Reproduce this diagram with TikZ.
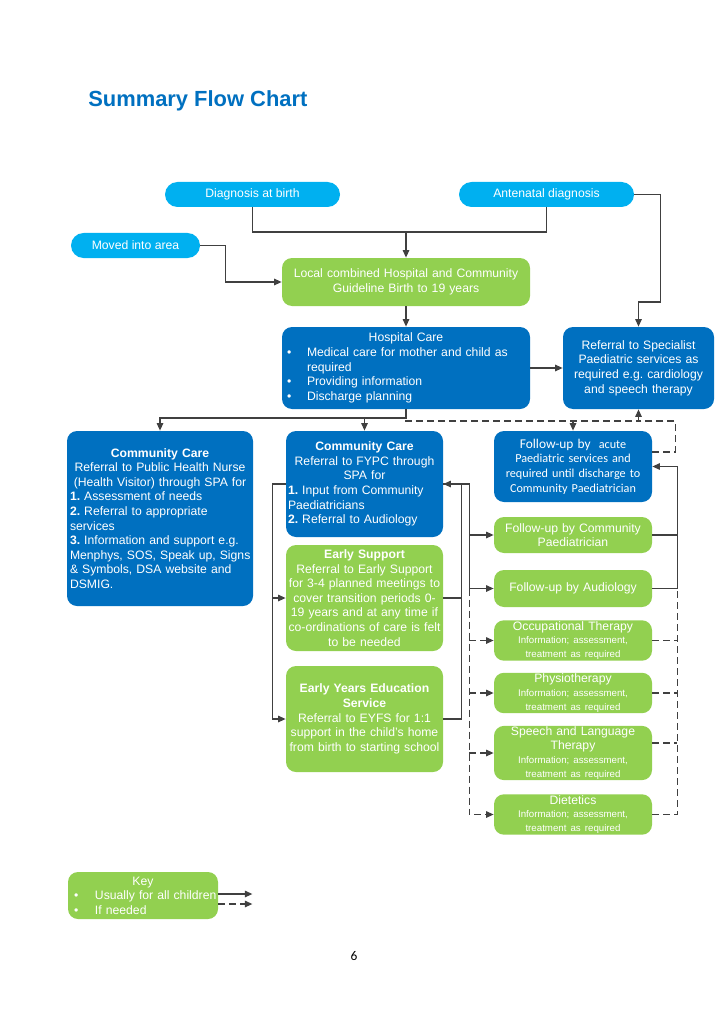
\documentclass[tikz,border=0pt]{standalone}
\usepackage{fontspec}
\setmainfont{Liberation Sans}
\newfontfamily\calibri{Carlito}
\usetikzlibrary{arrows.meta}
\frenchspacing

\definecolor{pillcyan}{RGB}{0,176,240}
\definecolor{boxgreen}{RGB}{146,208,80}
\definecolor{boxblue}{RGB}{0,112,192}
\definecolor{linegray}{RGB}{64,64,64}

\newcommand{\bodyfont}{\fontsize{12.2}{14.6}\selectfont}
\newcommand{\infofont}{\fontsize{9.7}{13.8}\selectfont}
\newcommand{\bul}{\makebox[23pt][l]{\hspace{3pt}\textbullet}}

\tikzset{every picture/.style={line width=0.75pt}}
\tikzset{
  pill/.style={fill=pillcyan, rounded corners=12.5pt, text=white, font=\bodyfont, minimum height=25pt, inner sep=0pt, align=center},
  greenbox/.style={fill=boxgreen, rounded corners=10pt, text=white, font={\bodyfont\parindent=0pt}, inner xsep=2pt, inner ysep=1pt},
  bluebox/.style={greenbox, fill=boxblue},
  therapy/.style={greenbox, font={\fontsize{12.2}{13.8}\selectfont}, minimum width=158pt, text width=154pt, align=center},
  link/.style={draw=linegray, line width=1.2pt},
  arr/.style={link, -{Triangle[length=7.5pt,width=6.5pt]}},
  ifneeded/.style={link, dash pattern=on 7pt off 4pt},
}

\begin{document}
\begin{tikzpicture}[x=1pt,y=1pt,yscale=-1,xscale=1]
\useasboundingbox (0,0) rectangle (724,1024);

% Title
\node[anchor=west, inner sep=0pt, text=boxblue, font={\fontsize{21.9}{26}\selectfont\bfseries}] (title) at (88,101) {Summary Flow Chart};

%Pills
\node[pill, minimum width=175pt] (birth) at (252.5,194.5) {Diagnosis at birth};
\node[pill, minimum width=175pt] (ante) at (546.5,194.5) {Antenatal diagnosis};
\node[pill, minimum width=129pt] (moved) at (135.5,245.5) {Moved into area};

%Rounded Rect
\node[greenbox, minimum width=248pt, minimum height=48pt, text width=244pt, align=center] (guide) at (406,282) {Local combined Hospital and Community\\Guideline Birth to 19 years};
%Rounded Rect
\node[bluebox, minimum width=248pt, minimum height=82pt, text width=244pt, align=left] (hosp) at (406,368) {{\centering Hospital Care\par}\bul Medical care for mother and child as\\\hspace*{23pt}required\\\bul Providing information\\\bul Discharge planning};
%Rounded Rect
\node[bluebox, minimum width=151pt, minimum height=82pt, text width=147pt, align=center] (spec) at (638.5,368) {Referral to Specialist\\Paediatric services as\\required e.g. cardiology\\and speech therapy};

%Rounded Rect
\node[bluebox, minimum width=186pt, minimum height=175pt, text width=184pt, inner xsep=1pt, align=left] (ccleft) at (160,518.5) {{\centering\textbf{Community Care}\\Referral to Public Health Nurse\\(Health Visitor) through SPA for\par}\hspace*{2pt}\textbf{1.} Assessment of needs\\\hspace*{2pt}\textbf{2.} Referral to appropriate\\\hspace*{2pt}services\\\hspace*{2pt}\textbf{3.} Information and support e.g.\\\hspace*{2pt}Menphys, SOS, Speak up, Signs\\\hspace*{2pt}\& Symbols, DSA website and\\\hspace*{2pt}DSMIG.};
%Rounded Rect
\node[bluebox, minimum width=157pt, minimum height=106pt, text width=153pt, align=left] (ccfypc) at (364.5,484) {{\centering\textbf{Community Care}\\Referral to FYPC through\\SPA for\par}\textbf{1.} Input from Community\\Paediatricians\\\textbf{2.} Referral to Audiology};
%Rounded Rect
\node[greenbox, minimum width=157pt, minimum height=106pt, text width=155pt, inner xsep=1pt, align=center] (early) at (364.5,598) {\textbf{Early Support}\\Referral to Early Support\\for 3-4 planned meetings to\\cover transition periods 0-\\19 years and at any time if\\co-ordinations of care is felt\\to be needed};
%Rounded Rect
\node[greenbox, minimum width=157pt, minimum height=106pt, text width=155pt, inner xsep=1pt, align=center] (eyes) at (364.5,719) {\textbf{Early Years Education}\\\textbf{Service}\\Referral to EYFS for 1:1\\support in the child’s home\\from birth to starting school};

%Rounded Rect
\node[bluebox, minimum width=158pt, minimum height=71pt, text width=154pt, align=center, font={\calibri\bodyfont}] (acute) at (573,466.5) {{\fontsize{13.4}{14.6}\selectfont Follow-up by}\ \ acute\\Paediatric services and\\required until discharge to\\Community Paediatrician};
\node[therapy, minimum height=36pt] (paed) at (573,535) {Follow-up by Community\\Paediatrician};
\node[therapy, minimum height=37pt] (audio) at (573,588.5) {Follow-up by Audiology};
\node[therapy, minimum height=37pt] (ot) at (573,640.5) {Occupational Therapy\\{\infofont Information; assessment,\\treatment as required}};
\node[therapy, minimum height=38pt] (physio) at (573,693) {Physiotherapy\\{\infofont Information; assessment,\\treatment as required}};
\node[therapy, minimum height=54pt] (slt) at (573,753) {Speech and Language\\Therapy\\{\infofont Information; assessment,\\treatment as required}};
\node[therapy, minimum height=37pt] (diet) at (573,814.5) {Dietetics\\{\infofont Information; assessment,\\treatment as required}};

% Key
\node[greenbox, minimum width=150pt, minimum height=47pt, text width=148pt, inner xsep=1pt, align=left] (key) at (143,895.5) {{\centering Key\par}\makebox[26pt][l]{\hspace{5pt}\textbullet}Usually for all children\\\makebox[26pt][l]{\hspace{5pt}\textbullet}If needed};

% Text Node
\node[font={\calibri\fontsize{13.4}{16}\selectfont}] (pagenum) at (354,956) {6};

% Rows used by the connectors
\coordinate (diagrow) at (0,232);
\coordinate (specrow) at (0,302);
\coordinate (hosprow) at (0,418);
\coordinate (dashrow) at (0,421);

%Straight Lines
\draw[link] (birth.south) |- (ante.south |- diagrow) -- (ante.south);
\draw[arr] (guide.north |- diagrow) -- (guide.north);
\draw[arr] (moved.east) -- ++(25,0) |- (guide.west);
\draw[arr] (guide.south) -- (hosp.north);
\draw[arr] (ante.east) -- ++(26,0) |- (spec.north |- specrow) -- (spec.north);
\draw[arr] (hosp.east) -- (spec.west);

% dashed links round the acute follow-up
\draw[ifneeded] (hosp.south) |- (spec.south |- dashrow);
\draw[ifneeded, arr] (acute.north |- dashrow) -- (acute.north);
\coordinate (loopA) at ([yshift=-14.5pt]acute.east);
\draw[ifneeded, arr] (loopA) -- ++(23,0) |- (spec.south |- dashrow) -- (spec.south);

\draw[arr] (hosp.south) |- (ccleft.north |- hosprow) -- (ccleft.north);
\draw[arr] (ccfypc.north |- hosprow) -- (ccfypc.north);

% left bus
\coordinate (lbus) at ([xshift=-13pt]ccfypc.west);
\draw[arr] (ccfypc.west) -- (lbus) |- (eyes.west);
\draw[arr] (lbus) |- (early.west);

% back into community care
\coordinate (rbus) at ([xshift=18pt]ccfypc.east);
\draw[arr] (eyes.east) -| (rbus) -- (ccfypc.east);
\draw[link] (early.east) -- (early.east -| rbus);

% out to the follow-ups
\coordinate (fbus) at ([xshift=26pt]ccfypc.east);
\draw[arr] (ccfypc.east) -- (fbus) |- (audio.west);
\draw[arr] (fbus) |- (paed.west);
\draw[ifneeded, arr] (fbus |- audio.west) |- (diet.west);
\draw[ifneeded, arr] (fbus |- ot.west) -- (ot.west);
\draw[ifneeded, arr] (fbus |- physio.west) -- (physio.west);
\draw[ifneeded, arr] (fbus |- slt.west) -- (slt.west);

% right bus back to acute
\coordinate (abus) at ([xshift=25pt]acute.east);
\draw[arr] (audio.east) -| (abus) -- (acute.east);
\draw[link] (paed.east) -- (paed.east -| abus);
\draw[ifneeded] (diet.east) -| (abus |- audio.east);
\draw[ifneeded] (ot.east) -- (ot.east -| abus);
\draw[ifneeded] (physio.east) -- (physio.east -| abus);
\draw[ifneeded] ([yshift=-10pt]slt.east) -- ([yshift=-10pt]slt.east -| abus);

% key arrows
\draw[arr] ([yshift=-1.5pt]key.east) -- ++(34,0);
\draw[ifneeded, arr] ([yshift=8.5pt]key.east) -- ++(34,0);
\end{tikzpicture}
\end{document}
